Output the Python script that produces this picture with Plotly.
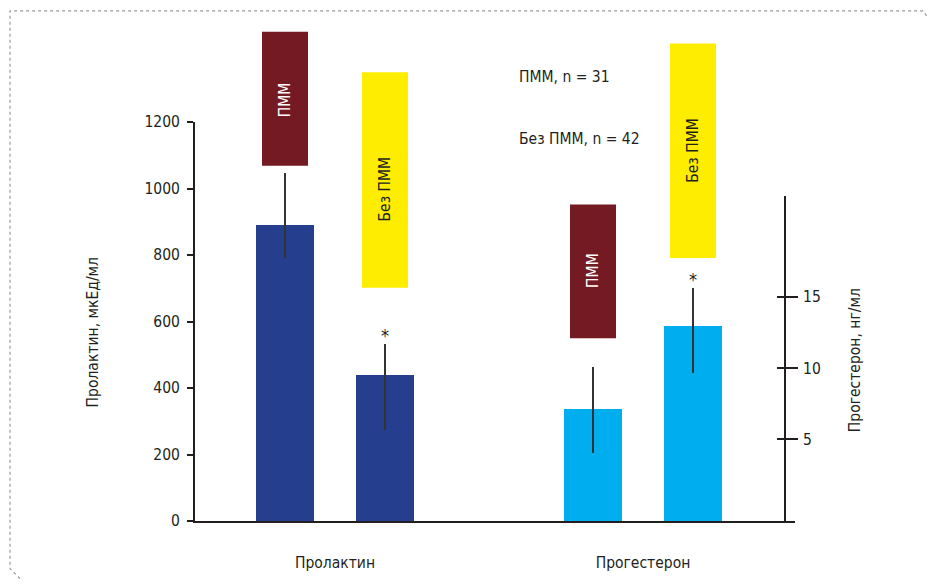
import plotly.graph_objects as go

# ---------------- data ----------------
categories = ["Пролактин", "Прогестерон"]
groups = ["ПММ", "Без ПММ"]

prolactin_vals = [890, 439]          # мкЕд/мл
prolactin_err_up = [158, 92]
prolactin_err_down = [98, 164]

progest_vals = [7.14, 12.93]         # нг/мл
progest_err_up = [2.93, 2.71]
progest_err_down = [3.07, 3.28]

left_ticks = [0, 200, 400, 600, 800, 1000, 1200]
right_ticks = [5, 10, 15]

legend_lines = ["ПММ, n = 31", "Без ПММ, n = 42"]
significance = [None, "*"]  # per group (Без ПММ marked)

# ---------------- styling / layout constants ----------------
W, H = 930, 584
ML, MR, MT, MB = 195, 135, 122, 60
PW, PH = W - ML - MR, H - MT - MB
FONT = "Liberation Sans Narrow, Arial Narrow, DejaVu Sans Condensed, sans-serif"
FS = 15.5
TXT = "#231F20"
DARK_BLUE = "#253E8D"
LIGHT_BLUE = "#00AEEF"
RED = "#741A22"
YELLOW = "#FFED00"

GROUP_PX = 308.0
X_RANGE = [-140 / GROUP_PX, 1 + 152 / GROUP_PX]
OFF = 50 / GROUP_PX
BAR_W = 58 / GROUP_PX
BOX_W = 46 / GROUP_PX

Y2_MIN, Y2_MAX = -0.74, 22.06
Y2_DOMAIN_TOP = (524 - 197) / PH
Y2_POS = (785 - ML) / PW


def px_x(px):
    return (px - ML) / PW


def px_y(py):
    return (H - MB - py) / PH


fig = go.Figure()

# prolactin bars (left axis)
fig.add_trace(go.Bar(
    x=[0 - OFF, 0 + OFF], y=prolactin_vals, width=BAR_W,
    marker=dict(color=DARK_BLUE, line=dict(width=0)),
    error_y=dict(type="data", symmetric=False, array=prolactin_err_up,
                 arrayminus=prolactin_err_down, width=0, thickness=1.3,
                 color="#333333"),
    yaxis="y", xaxis="x", showlegend=False, hoverinfo="y",
))

# progesterone bars (right axis)
fig.add_trace(go.Bar(
    x=[1 - OFF, 1 + OFF], y=[v - Y2_MIN for v in progest_vals],
    base=Y2_MIN, width=BAR_W,
    marker=dict(color=LIGHT_BLUE, line=dict(width=0)),
    error_y=dict(type="data", symmetric=False, array=progest_err_up,
                 arrayminus=progest_err_down, width=0, thickness=1.3,
                 color="#333333"),
    yaxis="y2", xaxis="x", showlegend=False, hoverinfo="skip",
))

shapes = []
annotations = []

# label boxes above bars: (bar x, top px, bottom px, color, text, text color, text center px)
boxes = [
    (0 - OFF, 31, 166, RED, groups[0], "white", 100),
    (0 + OFF, 72, 289, YELLOW, groups[1], TXT, 190),
    (1 - OFF, 205, 340, RED, groups[0], "white", 272),
    (1 + OFF, 43, 259, YELLOW, groups[1], TXT, 151),
]
for bx, top, bot, col, txt, tcol, tc in boxes:
    shapes.append(dict(type="rect", xref="x", yref="paper",
                       x0=bx - BOX_W / 2, x1=bx + BOX_W / 2,
                       y0=px_y(bot), y1=px_y(top),
                       fillcolor=col, line=dict(width=0), layer="above"))
    annotations.append(dict(x=bx, y=px_y(tc), xref="x", yref="paper",
                            text=txt, textangle=-90, showarrow=False,
                            font=dict(family=FONT, size=FS, color=tcol),
                            xanchor="center", yanchor="middle"))

# significance marks
for i, s in enumerate(significance):
    if s:
        annotations.append(dict(x=0 + (OFF if i else -OFF),
                                y=prolactin_vals[i] + prolactin_err_up[i],
                                xref="x", yref="y", text=s, showarrow=False,
                                font=dict(family=FONT, size=18, color=TXT),
                                yanchor="bottom", yshift=-4))
        annotations.append(dict(x=1 + (OFF if i else -OFF),
                                y=progest_vals[i] + progest_err_up[i],
                                xref="x", yref="y2", text=s, showarrow=False,
                                font=dict(family=FONT, size=18, color=TXT),
                                yanchor="bottom", yshift=-4))

# legend texts
for txt, py in zip(legend_lines, [77, 139]):
    annotations.append(dict(x=px_x(517), y=px_y(py), xref="paper", yref="paper",
                            text=txt, showarrow=False, xanchor="left",
                            yanchor="middle",
                            font=dict(family=FONT, size=FS, color=TXT)))

# axis titles
annotations.append(dict(x=px_x(93), y=px_y(334), xref="paper", yref="paper",
                        text="Пролактин, мкЕд/мл", textangle=-90, showarrow=False,
                        font=dict(family=FONT, size=FS, color=TXT),
                        xanchor="center", yanchor="middle"))
annotations.append(dict(x=px_x(855), y=px_y(362), xref="paper", yref="paper",
                        text="Прогестерон, нг/мл", textangle=-90, showarrow=False,
                        font=dict(family=FONT, size=FS, color=TXT),
                        xanchor="center", yanchor="middle"))

# dotted decorative frame
frame_path = "M {} {} L {} {} L {} {} L {} {} L {} {}".format(
    px_x(20), px_y(582), px_x(10), px_y(572), px_x(10), px_y(10),
    px_x(923), px_y(10), px_x(928), px_y(17))
shapes.append(dict(type="path", xref="paper", yref="paper", path=frame_path,
                   line=dict(color="#9a9a9a", width=1.2, dash="dot")))

fig.update_layout(
    width=W, height=H,
    margin=dict(l=ML, r=MR, t=MT, b=MB, pad=0),
    paper_bgcolor="white", plot_bgcolor="rgba(0,0,0,0)",
    font=dict(family=FONT, size=FS, color=TXT),
    showlegend=False, bargap=0, hovermode=False,
    xaxis=dict(range=X_RANGE, showgrid=False, zeroline=False,
               showline=True, linecolor=TXT, linewidth=2,
               tickvals=[0, 1], ticktext=categories, ticks="",
               ticklabelstandoff=26, tickfont=dict(size=FS, color=TXT),
               fixedrange=True),
    yaxis=dict(range=[0, 1200], tickvals=left_ticks, showgrid=False,
               zeroline=False, showline=True, linecolor=TXT, linewidth=2,
               ticks="outside", ticklen=6, tickwidth=2, tickcolor=TXT,
               ticklabelstandoff=4, tickfont=dict(size=FS, color=TXT)),
    yaxis2=dict(range=[Y2_MIN, Y2_MAX], domain=[0, Y2_DOMAIN_TOP],
                anchor="free", position=Y2_POS, side="right",
                tickvals=right_ticks, showgrid=False, zeroline=False,
                showline=True, linecolor=TXT, linewidth=2,
                ticks="outside", ticklen=12, tickwidth=2, tickcolor=TXT,
                minor=dict(tickvals=right_ticks, ticks="inside", ticklen=7,
                           tickwidth=2, tickcolor=TXT, showgrid=False),
                ticklabelstandoff=2, tickfont=dict(size=FS, color=TXT)),
    shapes=shapes, annotations=annotations,
)

fig.write_html("out.html",
               config={"displayModeBar": False, "staticPlot": True},
               post_script="document.body.style.margin='0';"
                           "document.body.style.padding='0';")
